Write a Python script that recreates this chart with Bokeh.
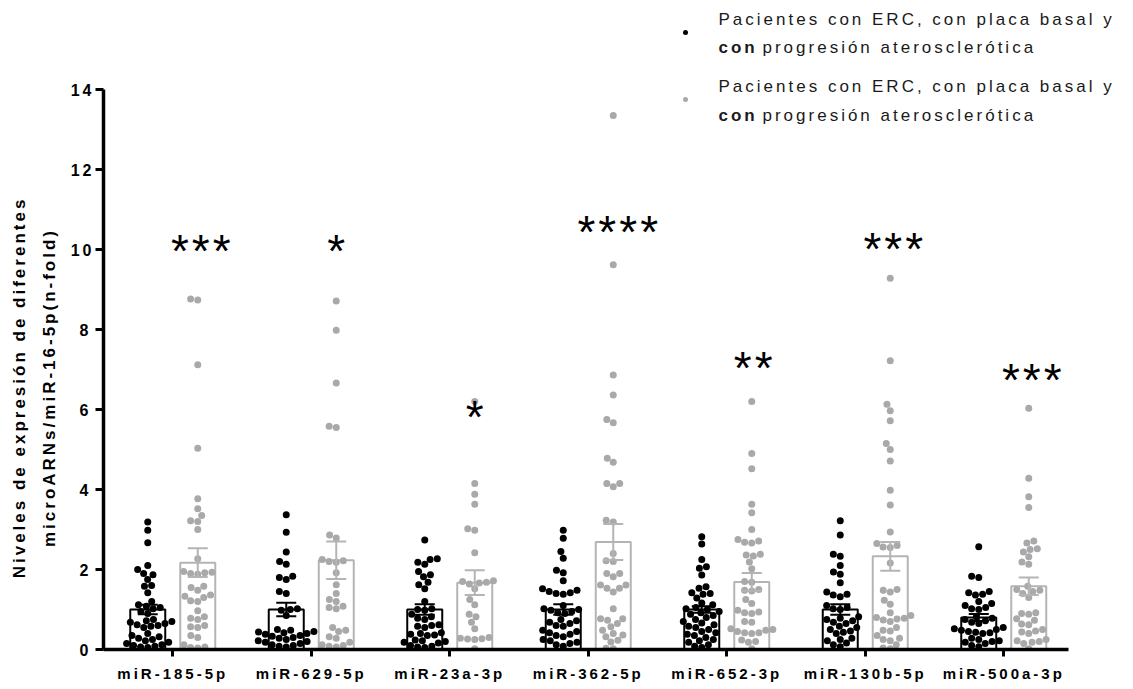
import numpy as np
from bokeh.plotting import figure
from bokeh.models import Range1d, FixedTicker, Label, LinearAxis, Title
from bokeh.embed import file_html
from bokeh.resources import INLINE

# ---------------------------------------------------------------- data
mirnas = ["miR-185-5p", "miR-629-5p", "miR-23a-3p", "miR-362-5p",
          "miR-652-3p", "miR-130b-5p", "miR-500a-3p"]

# first patient group (black dots), n-fold expression per patient
black_185 = [3.19, 2.98, 2.67, 2.10, 2.00, 1.90, 1.87, 1.75, 1.60, 1.58, 1.42, 1.20, 1.12, 1.08,
             1.05, 1.02, 0.95, 0.90, 0.75, 0.72, 0.70, 0.68, 0.65, 0.62, 0.60, 0.58, 0.55, 0.40,
             0.35, 0.32, 0.28, 0.25, 0.22, 0.18, 0.15, 0.12, 0.10, 0.08, 0.06, 0.05]
black_629 = [3.37, 2.93, 2.44, 2.20, 2.13, 1.83, 1.80, 1.75, 1.45, 1.40, 1.02, 1.00, 0.98, 0.85,
             0.50, 0.48, 0.45, 0.44, 0.42, 0.40, 0.38, 0.35, 0.33, 0.30, 0.28, 0.25, 0.22, 0.20,
             0.18, 0.15, 0.12, 0.10, 0.08, 0.06]
black_23a = [2.74, 2.27, 2.25, 2.18, 2.13, 1.95, 1.87, 1.82, 1.68, 1.62, 1.52, 1.20, 1.02, 1.00,
             0.98, 0.88, 0.82, 0.78, 0.75, 0.62, 0.60, 0.58, 0.55, 0.42, 0.40, 0.38, 0.36, 0.35,
             0.24, 0.22, 0.20, 0.18, 0.16, 0.10, 0.08, 0.06, 0.05]
black_362 = [2.98, 2.78, 2.45, 2.28, 1.98, 1.92, 1.72, 1.52, 1.48, 1.45, 1.42, 1.40, 1.38, 1.10,
             1.02, 1.00, 0.98, 0.95, 0.92, 0.90, 0.75, 0.72, 0.68, 0.65, 0.60, 0.58, 0.48, 0.45,
             0.42, 0.38, 0.35, 0.32, 0.25, 0.22, 0.18, 0.15, 0.12, 0.08]
black_652 = [2.82, 2.64, 2.25, 2.07, 2.03, 1.86, 1.57, 1.53, 1.42, 1.40, 1.38, 1.29, 1.16, 1.12,
             1.05, 1.02, 1.00, 0.95, 0.92, 0.88, 0.85, 0.80, 0.75, 0.70, 0.66, 0.62, 0.58, 0.55,
             0.50, 0.45, 0.42, 0.38, 0.35, 0.30, 0.25, 0.22, 0.18, 0.12, 0.08, 0.05]
black_130b = [3.22, 2.86, 2.38, 2.33, 2.10, 1.94, 1.88, 1.67, 1.44, 1.38, 1.36, 1.32, 1.10, 1.05,
              1.02, 1.00, 0.82, 0.78, 0.75, 0.72, 0.68, 0.65, 0.58, 0.55, 0.50, 0.46, 0.43, 0.40,
              0.28, 0.25, 0.22, 0.16, 0.12, 0.07]
black_500a = [2.57, 1.83, 1.80, 1.45, 1.42, 1.38, 1.36, 1.20, 1.15, 1.10, 1.05, 1.02, 1.00, 0.82,
              0.78, 0.75, 0.72, 0.68, 0.65, 0.55, 0.52, 0.50, 0.48, 0.45, 0.43, 0.42, 0.40, 0.28,
              0.25, 0.22, 0.20, 0.18, 0.15, 0.10, 0.07]

# second patient group (grey dots)
gray_185 = [8.76, 8.74, 7.12, 5.03, 3.77, 3.52, 3.35, 3.22, 3.20, 3.00, 2.27, 1.95, 1.93, 1.92,
            1.90, 1.88, 1.58, 1.55, 1.48, 1.36, 1.33, 1.30, 1.22, 1.20, 0.97, 0.82, 0.78, 0.75,
            0.60, 0.57, 0.55, 0.35, 0.30, 0.12, 0.06, 0.05, 0.04]
gray_629 = [8.71, 7.98, 6.66, 5.58, 5.55, 2.86, 2.79, 2.25, 2.22, 2.20, 2.18, 1.92, 1.62, 1.40,
            1.25, 1.20, 1.08, 1.05, 1.02, 0.55, 0.48, 0.45, 0.32, 0.28, 0.18, 0.12, 0.10, 0.08,
            0.06]
gray_23a = [6.20, 4.15, 3.88, 3.63, 3.02, 2.98, 2.42, 1.72, 1.70, 1.68, 1.66, 1.64, 1.52, 1.25,
            1.12, 0.88, 0.82, 0.68, 0.52, 0.30, 0.28, 0.27, 0.26, 0.25, 0.02]
gray_362 = [13.35, 9.62, 6.86, 6.36, 5.75, 5.67, 4.78, 4.68, 4.15, 4.15, 4.07, 3.23, 3.19, 2.40,
            2.22, 2.20, 1.90, 1.90, 1.82, 1.61, 1.61, 1.53, 1.53, 1.44, 1.02, 0.77, 0.77, 0.73,
            0.65, 0.57, 0.48, 0.40, 0.36, 0.32, 0.23, 0.19, 0.03, 0.02]
gray_652 = [6.20, 4.90, 4.52, 3.63, 3.42, 3.00, 2.75, 2.71, 2.68, 2.66, 2.38, 2.36, 2.34, 2.19,
            2.02, 1.70, 1.68, 1.50, 1.48, 1.46, 1.25, 1.15, 0.98, 0.94, 0.92, 0.90, 0.70, 0.68,
            0.52, 0.48, 0.45, 0.42, 0.40, 0.42, 0.50, 0.24, 0.20, 0.18, 0.02]
gray_130b = [9.28, 7.22, 6.13, 5.97, 5.72, 5.15, 5.00, 4.71, 3.98, 3.61, 2.94, 2.65, 2.60, 2.56,
             2.55, 2.16, 1.50, 1.48, 1.44, 1.23, 1.13, 0.92, 0.85, 0.80, 0.78, 0.76, 0.74, 0.70,
             0.55, 0.48, 0.46, 0.35, 0.28, 0.25, 0.22, 0.12, 0.04, 0.02]
gray_500a = [6.03, 4.28, 3.82, 3.55, 2.71, 2.66, 2.52, 2.50, 2.44, 2.32, 2.19, 2.13, 1.58, 1.50,
             1.48, 1.45, 1.40, 1.30, 0.92, 0.90, 0.88, 0.77, 0.73, 0.64, 0.62, 0.50, 0.46, 0.44,
             0.40, 0.25, 0.22, 0.20, 0.18, 0.15, 0.02]

# bar heights (mean) and error bars (SEM)
black_mean = [1.00, 1.00, 1.00, 1.00, 1.00, 1.00, 0.80]
black_sem = [0.12, 0.17, 0.13, 0.13, 0.08, 0.13, 0.09]
gray_mean = [2.17, 2.23, 1.67, 2.69, 1.69, 2.33, 1.58]
gray_sem = [0.36, 0.47, 0.31, 0.45, 0.22, 0.36, 0.22]

# significance marks and the height of each mark
sig_marks = ["***", "*", "*", "****", "**", "***", "***"]
sig_height = [10.13, 10.13, 5.98, 10.60, 7.21, 10.18, 6.90]

black_groups = [black_185, black_629, black_23a, black_362, black_652, black_130b, black_500a]
gray_groups = [gray_185, gray_629, gray_23a, gray_362, gray_652, gray_130b, gray_500a]

legend_line1 = "Pacientes con ERC, con placa basal y"
legend_bold = "con"
legend_rest = "progresión aterosclerótica"
ylabel_1 = "Niveles de expresión de diferentes"
ylabel_2 = "microARNs/miR-16-5p(n-fold)"

# ---------------------------------------------------------------- layout
W, H = 1133, 689
LEFT, BOTTOM = 103, 40
PX_X = 138.5          # pixels per category
PX_Y = 40.0           # pixels per unit of expression
TRACK = 3.0           # letter spacing (px) used by every text
FONT = "Liberation Sans"
BLACK = "#000000"
GREY = "#a9a9ab"
GREY_BAR = "#b4b4b4"

frame_w = W - LEFT
frame_h = H - BOTTOM


def dx(px):
    """canvas x pixel -> data x"""
    return (px - LEFT) / PX_X


def dy(py):
    """canvas y pixel -> data y"""
    return (frame_h - py) / PX_Y


def swarm(vals, diam=7.2):
    """Beeswarm offsets (data units) so that dots do not overlap."""
    vals = np.asarray(vals, dtype=float)
    order = np.argsort(vals, kind="stable")
    placed = []
    offs = np.zeros(len(vals))
    for i in order:
        y = vals[i] * PX_Y
        cands = [0.0]
        for (px, py) in placed:
            d = abs(py - y)
            if d < diam:
                s = np.sqrt(diam * diam - d * d)
                cands += [px + s, px - s]
        cands.sort(key=lambda c: (abs(c), c))
        chosen = cands[-1]
        for c in cands:
            if all((c - px) ** 2 + (y - py) ** 2 >= diam * diam - 1e-6 for px, py in placed):
                chosen = c
                break
        offs[i] = chosen
        placed.append((chosen, y))
    return offs / PX_X


p = figure(width=W, height=H, output_backend="svg", toolbar_location=None,
           x_range=Range1d(0, frame_w / PX_X), y_range=Range1d(0, frame_h / PX_Y),
           x_axis_location=None,
           min_border_left=LEFT, min_border_right=0, min_border_top=0,
           min_border_bottom=BOTTOM, background_fill_color="white",
           border_fill_color="white",
           stylesheets=[":host { letter-spacing: %.1fpx; }" % TRACK])
p.outline_line_color = None
p.xgrid.visible = False
p.ygrid.visible = False

centers = np.arange(len(mirnas)) + 0.5
off = 25 / PX_X
bar_w = 35 / PX_X

# bars
p.vbar(x=centers - off, top=black_mean, bottom=0, width=bar_w,
       fill_color=None, line_color=BLACK, line_width=2)
p.vbar(x=centers + off, top=gray_mean, bottom=0, width=bar_w,
       fill_color=None, line_color=GREY_BAR, line_width=2)

# individual patients
for i in range(len(mirnas)):
    bx = centers[i] - off + swarm(black_groups[i])
    gx = centers[i] + off + swarm(gray_groups[i])
    p.scatter(bx, black_groups[i], size=7, marker="circle",
              fill_color=BLACK, line_color=None)
    p.scatter(gx, gray_groups[i], size=7, marker="circle",
              fill_color=GREY, line_color=None)

# error bars (mean +- SEM)
cap = 10 / PX_X
for xs, m, s, col in [(centers - off, black_mean, black_sem, BLACK),
                      (centers + off, gray_mean, gray_sem, GREY_BAR)]:
    m = np.array(m)
    s = np.array(s)
    p.segment(x0=xs, y0=m - s, x1=xs, y1=m + s, line_color=col, line_width=2)
    p.segment(x0=xs - cap, y0=m + s, x1=xs + cap, y1=m + s, line_color=col, line_width=2)
    p.segment(x0=xs - cap, y0=m - s, x1=xs + cap, y1=m - s, line_color=col, line_width=2)

# significance asterisks
for i, mark in enumerate(sig_marks):
    p.add_layout(Label(x=centers[i] + off, y=sig_height[i] - 0.17, text=mark,
                       text_font=FONT, text_font_size="46px", text_align="center",
                       text_baseline="middle", text_color=BLACK))

# y axis: ticks and numbers
p.yaxis.ticker = FixedTicker(ticks=list(range(0, 15, 2)))
p.yaxis.bounds = (0, 14)
p.yaxis.minor_tick_line_color = None
p.yaxis.major_tick_in = 0
p.yaxis.major_tick_out = 8
p.yaxis.major_tick_line_width = 3
p.yaxis.axis_line_width = 3.5
p.yaxis.major_label_text_font = FONT
p.yaxis.major_label_text_font_style = "bold"
p.yaxis.major_label_text_font_size = "16px"
p.yaxis.major_label_text_color = BLACK
p.yaxis.major_label_standoff = 7

# y axis title: two vertical lines, each started so that it is centred on
# the middle of the 0-14 span (widths are those of bold 17px text plus tracking)
title_mid = 387
for txt, width_em, stand in [(ylabel_2, 14.0, 18), (ylabel_1, 16.45, 0)]:
    length = width_em * 17 + len(txt) * TRACK
    start = title_mid + length / 2
    p.add_layout(Title(text=txt, align="left", offset=frame_h - start, standoff=stand,
                       text_font=FONT, text_font_style="bold", text_font_size="17px",
                       text_color=BLACK), "left")

# x axis: the names sit on major positions (centred once the letter spacing is
# counted), the visible ticks are the group centres drawn as minor ticks
name_pos = [round(float(c - len(n) * TRACK / 2 / PX_X), 4) for c, n in zip(centers, mirnas)]
name_axis = LinearAxis(ticker=FixedTicker(ticks=name_pos, minor_ticks=list(centers)),
                       major_label_overrides={pos: n for pos, n in zip(name_pos, mirnas)},
                       bounds=(0, 6.97), axis_line_width=3.5, axis_line_color=BLACK,
                       major_tick_line_color=None, major_tick_in=0, major_tick_out=7,
                       minor_tick_line_color=BLACK, minor_tick_line_width=3,
                       minor_tick_in=0, minor_tick_out=7,
                       major_label_text_font=FONT, major_label_text_font_style="bold",
                       major_label_text_font_size="15px", major_label_text_color=BLACK,
                       major_label_standoff=8)
p.add_layout(name_axis, "below")

# legend
for dot_y, base1, base2, col in [(32, 19, 47, BLACK), (99, 86, 115, GREY)]:
    p.scatter([dx(685)], [dy(dot_y)], size=5, marker="circle",
              fill_color=col, line_color=None)
    p.add_layout(Label(x=dx(718), y=dy(base1), text=legend_line1, text_font=FONT,
                       text_font_size="17px", text_align="left",
                       text_baseline="alphabetic", text_color="#1a1a1a"))
    p.add_layout(Label(x=dx(718), y=dy(base2), text=legend_bold, text_font=FONT,
                       text_font_size="17px", text_font_style="bold", text_align="left",
                       text_baseline="alphabetic", text_color="#1a1a1a"))
    p.add_layout(Label(x=dx(762), y=dy(base2), text=legend_rest, text_font=FONT,
                       text_font_size="17px", text_align="left",
                       text_baseline="alphabetic", text_color="#1a1a1a"))

open("out.html", "w").write(file_html(p, INLINE))
